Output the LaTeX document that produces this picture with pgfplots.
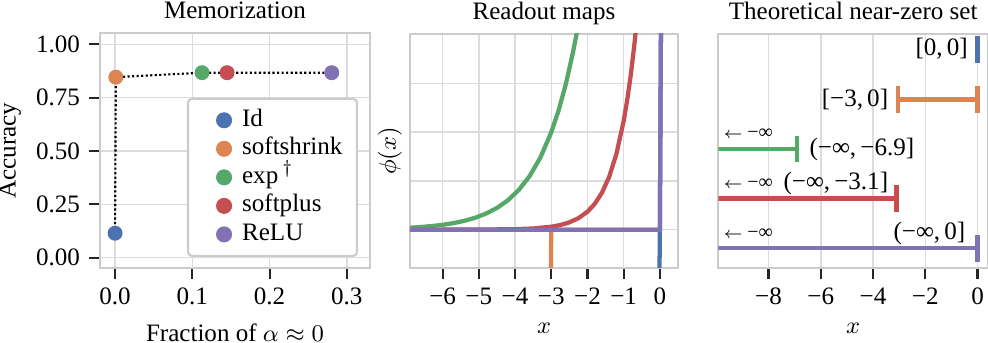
\documentclass[border=0pt]{standalone}
\usepackage{fontspec}
\setmainfont{Liberation Serif}
\usepackage{pgfplots}
\pgfplotsset{compat=1.18}
\definecolor{sbblue}{HTML}{4C72B0}
\definecolor{sborange}{HTML}{DD8452}
\definecolor{sbgreen}{HTML}{55A868}
\definecolor{sbred}{HTML}{C44E52}
\definecolor{sbpurple}{HTML}{8172B3}
\definecolor{gridgray}{HTML}{DCDCDC}
\definecolor{spinegray}{HTML}{CCCCCC}
\newcommand\fs{\fontsize{9.4}{11}\selectfont}
\newcommand\fsm{\fontsize{7.5}{8}\selectfont}
\newcommand\minf{{\fontsize{6}{7}\selectfont$\leftarrow$}\,{\fsm −∞}}

\pgfplotsset{
  panel/.style={
    scale only axis, anchor=north west,
    axis line style={draw=spinegray, line width=0.8pt},
    grid style={draw=gridgray, line width=0.55pt},
    major tick length=4pt, tick align=outside,
    xtick pos=left, ytick pos=left,
    tick style={draw=black!85, line width=0.8pt},
    tick label style={font=\fs},
    label style={font=\fs},
    every axis title shift=0pt,
    title style={font=\fs, at={(0.5,1)}, anchor=base, yshift=5.6pt},
    clip=true,
  },
  curve/.style={line width=1.6pt, line cap=butt},
}

\begin{document}
\begin{tikzpicture}
\useasboundingbox (0,0) rectangle (370.5pt,-128.625pt);

% memorization
\begin{axis}[panel, at={(37.5pt,-12.375pt)}, width=101.25pt, height=88.125pt,
  xmin=-0.0195, xmax=0.33, ymin=-0.048, ymax=1.053,
  xtick={0,0.1,0.2,0.3}, xticklabels={0.0,0.1,0.2,0.3},
  ytick={0,0.25,0.5,0.75,1}, yticklabels={0.00,0.25,0.50,0.75,1.00},
  grid=major,
  title={Memorization},
  xlabel={Fraction of $\alpha\approx 0$},
  ylabel={Accuracy},
  ylabel style={at={(axis description cs:-0.333,0.5)}, anchor=center},
  legend style={at={(0.956,0.047)}, anchor=south east, draw=spinegray, line width=0.8pt,
    fill=white, rounded corners=1.5pt, font=\fs, row sep=0.6pt,
    inner ysep=3pt,
    nodes={inner ysep=0.8pt, inner xsep=2.5pt, text height=6.5pt, text depth=2pt}},
  legend cell align=left,
  legend image code/.code={\path[draw=none, fill=none] (0cm,0cm) -- (0.52cm,0cm);
    \draw[#1, only marks] plot coordinates {(0.37cm,0cm)};},
]
\addplot[black, line width=0.8pt, dash pattern=on 0.8pt off 0.9pt, forget plot]
  coordinates {(0,0.115) (0.001,0.846) (0.1126,0.867) (0.145,0.867) (0.2805,0.867)};
\addplot[only marks, mark=*, mark size=2.6pt, sbblue] coordinates {(0,0.115)};
\addplot[only marks, mark=*, mark size=2.6pt, sborange] coordinates {(0.001,0.846)};
\addplot[only marks, mark=*, mark size=2.6pt, sbgreen] coordinates {(0.1126,0.867)};
\addplot[only marks, mark=*, mark size=2.6pt, sbred] coordinates {(0.145,0.867)};
\addplot[only marks, mark=*, mark size=2.6pt, sbpurple] coordinates {(0.2805,0.867)};
\legend{Id, softshrink, exp\,$^{\dagger}$, softplus, ReLU}
\end{axis}

% readout maps
\begin{axis}[panel, at={(153.75pt,-12.75pt)}, width=100.5pt, height=87.75pt,
  xmin=-6.9, xmax=0.5, ymin=-0.785, ymax=4.01,
  xtick={-6,-5,-4,-3,-2,-1,0}, xticklabels={−6,−5,−4,−3,−2,−1,0},
  ytick={0,1,2,3}, yticklabels={}, ytick style={draw=none},
  grid=major,
  title={Readout maps},
  xlabel={$x$},
  ylabel={$\phi(x)$},
  ylabel style={at={(axis description cs:-0.075,0.5)}, anchor=center},
]
\addplot[curve, sbblue] coordinates {(-0.01,-0.8) (0,0) (0.03,4.2)};
\addplot[curve, sborange] coordinates {(-3.01,-0.8) (-3,0) (0,0)};
\addplot[curve, sbgreen] coordinates {
  (-6.9,0.040) (-6.6,0.055) (-6.3,0.074) (-6.0,0.099) (-5.7,0.134) (-5.4,0.181)
  (-5.1,0.244) (-4.8,0.330) (-4.5,0.445) (-4.2,0.600) (-3.9,0.811) (-3.6,1.094)
  (-3.3,1.477) (-3.0,1.994) (-2.8,2.435) (-2.6,2.974) (-2.4,3.633) (-2.3,4.015) (-2.25,4.22)};
\addplot[curve, sbred] coordinates {
  (-6.9,0.000) (-5.0,0.002) (-4.0,0.010) (-3.5,0.025) (-3.0,0.061) (-2.75,0.095)
  (-2.5,0.150) (-2.25,0.235) (-2.0,0.368) (-1.8,0.527) (-1.6,0.756) (-1.4,1.083)
  (-1.2,1.553) (-1.0,2.226) (-0.9,2.665) (-0.8,3.190) (-0.7,3.819) (-0.65,4.20)};
\addplot[curve, sbpurple] coordinates {(-7,0) (0,0) (0.03,4.2)};
\end{axis}

% near-zero sets
\begin{axis}[panel, at={(269.4pt,-12.75pt)}, width=101.1pt, height=87.75pt,
  xmin=-9.92, xmax=0.4, ymin=-0.4, ymax=4.32,
  xtick={-8,-6,-4,-2,0}, xticklabels={−8,−6,−4,−2,0},
  ytick=\empty,
  xmajorgrids,
  title={Theoretical near-zero set},
  xlabel={$x$},
]
\addplot[curve, sbblue] coordinates {(0,3.73) (0,4.27)};
\addplot[curve, sborange] coordinates {(-3.04,3) (0,3)};
\addplot[curve, sborange] coordinates {(-3.04,2.73) (-3.04,3.27)};
\addplot[curve, sborange] coordinates {(0,2.73) (0,3.27)};
\addplot[curve, sbgreen] coordinates {(-10,2) (-6.9,2)};
\addplot[curve, sbgreen] coordinates {(-6.9,1.73) (-6.9,2.27)};
\addplot[curve, sbred] coordinates {(-10,1) (-3.1,1)};
\addplot[curve, sbred] coordinates {(-3.1,0.73) (-3.1,1.27)};
\addplot[curve, sbpurple] coordinates {(-10,0) (0,0)};
\addplot[curve, sbpurple] coordinates {(0,-0.27) (0,0.27)};
\node[anchor=east, font=\fs, inner sep=1pt] at (axis cs:-0.25,4.03) {[0,\,0]};
\node[anchor=east, font=\fs, inner sep=1pt] at (axis cs:-3.3,3) {[−3,\,0]};
\node[anchor=west, font=\fs, inner sep=1pt] at (axis cs:-6.55,2) {(−∞,\,−6.9]};
\node[anchor=east, font=\fs, inner sep=1pt] at (axis cs:-3.3,1.31) {(−∞,\,−3.1]};
\node[anchor=east, font=\fs, inner sep=1pt] at (axis cs:-0.35,0.30) {(−∞,\,0]};
\node[anchor=west, inner sep=1pt] at (axis cs:-9.85,2.31) {\minf};
\node[anchor=west, inner sep=1pt] at (axis cs:-9.85,1.31) {\minf};
\node[anchor=west, inner sep=1pt] at (axis cs:-9.85,0.30) {\minf};
\end{axis}
\end{tikzpicture}
\end{document}
